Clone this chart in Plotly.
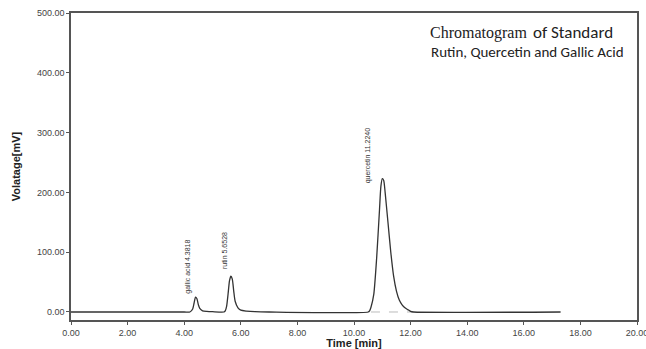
import plotly.graph_objects as go

# Chromatogram trace (time in min, signal in mV)
time_min = [0.0, 4.0, 4.2, 4.3, 4.35, 4.4, 4.45, 4.5, 4.55, 4.65, 4.8, 5.0, 5.4,
            5.45, 5.5, 5.55, 5.6, 5.65, 5.7, 5.75, 5.8, 5.9, 6.0, 6.2, 6.5, 7.0,
            10.5, 10.55, 10.6, 10.7, 10.8, 10.9, 10.95, 11.0, 11.05, 11.1, 11.2,
            11.3, 11.4, 11.5, 11.6, 11.7, 11.8, 11.9, 12.0, 12.1, 17.3]
voltage_mv = [0, 0, 0, 5, 15, 25, 22, 12, 6, 2, 1, 0.5, 0,
              2, 10, 30, 52, 60, 55, 35, 18, 7, 3, 1.5, 0.5, 0,
              0, 2, 8, 30, 90, 170, 210, 223, 220, 200, 150,
              100, 60, 35, 20, 12, 7, 4, 1, 0, 0]

peak_labels = ["gallic acid 4.3818", "rutin 5.6528", "quercetin 11.2240"]
peak_label_x = [4.15, 5.45, 10.5]
peak_label_y = [28, 68, 212]

baseline_x = [10.6, 12.1]
baseline_y = [0, 0]

x_ticks = [0, 2, 4, 6, 8, 10, 12, 14, 16, 18, 20]
y_ticks = [0, 100, 200, 300, 400, 500]

fig = go.Figure()
fig.add_trace(go.Scatter(x=baseline_x, y=baseline_y, mode="lines",
                         line=dict(color="#bbbbbb", width=1, dash="dash"),
                         showlegend=False, hoverinfo="skip"))
fig.add_trace(go.Scatter(x=time_min, y=voltage_mv, mode="lines",
                         line=dict(color="#333333", width=1.3, shape="spline", smoothing=0.6),
                         showlegend=False))

for txt, xv, yv in zip(peak_labels, peak_label_x, peak_label_y):
    fig.add_annotation(x=xv, y=yv, text=txt, textangle=-90, showarrow=False,
                       xanchor="center", yanchor="bottom",
                       font=dict(family="Arial, Liberation Sans", size=7, color="#333333"))

fig.add_annotation(xref="paper", yref="paper", x=0.810, y=0.935, xanchor="right", yanchor="middle",
                   showarrow=False, text="Chromatogram",
                   font=dict(family="Liberation Serif, DejaVu Serif, serif", size=16, color="#222222"))
fig.add_annotation(xref="paper", yref="paper", x=0.812, y=0.935, xanchor="left", yanchor="middle",
                   showarrow=False, text="of Standard",
                   font=dict(family="Carlito, Lato", size=17, color="#222222"))
fig.add_annotation(xref="paper", yref="paper", x=0.806, y=0.873, xanchor="center", yanchor="middle",
                   showarrow=False, text="Rutin, Quercetin and Gallic Acid",
                   font=dict(family="Carlito, Lato", size=15, color="#222222"))

axis_common = dict(showline=True, linecolor="#555555", linewidth=1.5, mirror=True,
                   ticks="outside", ticklen=3, tickcolor="#555555", showgrid=False,
                   zeroline=False, automargin=False, ticklabeloverflow="allow",
                   tickfont=dict(family="Arial, Liberation Sans", size=9, color="#444444"))

fig.update_xaxes(range=[0, 20], tickvals=x_ticks,
                 ticktext=[f"{v:.2f}" for v in x_ticks],
                 title=dict(text="<b>Time [min]</b>", standoff=0,
                            font=dict(family="Arial, Liberation Sans", size=11, color="#222222")),
                 **axis_common)
fig.update_yaxes(range=[-13.4, 500], tickvals=y_ticks,
                 ticktext=[f"{v:.2f}" for v in y_ticks],
                 title=dict(text="<b>Volatage[mV]</b>", standoff=14,
                            font=dict(family="Arial, Liberation Sans", size=11, color="#222222")),
                 **axis_common)

fig.update_layout(width=646, height=349, margin=dict(l=71, r=9, t=13, b=29),
                  plot_bgcolor="white", paper_bgcolor="white")

fig.write_html("out.html", config={"displayModeBar": False},
               post_script="document.body.style.margin='0';document.body.style.overflow='hidden';")
